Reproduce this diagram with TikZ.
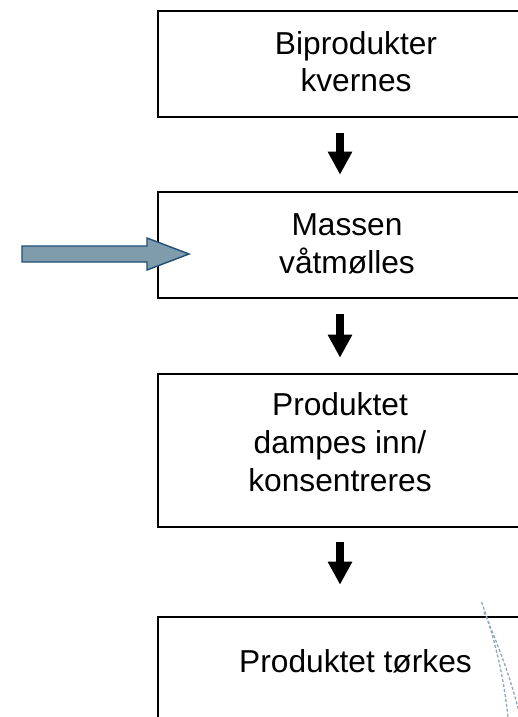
\documentclass[tikz,border=0pt]{standalone}
\usepackage{fontspec}
\setmainfont{Liberation Sans}
\usetikzlibrary{arrows.meta}
\definecolor{bluefill}{HTML}{7F9CAD}
\definecolor{blueedge}{HTML}{1F4E79}
\definecolor{dashblue}{HTML}{8FA9BC}
\tikzset{
  box/.style={draw=black, line width=2.6bp, rectangle, minimum width=402bp, inner sep=0pt},
  boxtext/.style={align=center, inner sep=0pt, anchor=base, font=\fontsize{31.7bp}{37.6bp}\selectfont},
  flowarrow/.style={line width=8bp, -{Triangle[width=23bp,length=23bp]}},
  dashcurve/.style={draw=dashblue, line width=1.3bp, dash pattern=on 3bp off 2bp}
}
\begin{document}
\begin{tikzpicture}[x=1bp,y=-1bp]
\useasboundingbox (0,0) rectangle (518,717);
\clip (0,0) rectangle (518,717);
\fill[white] (0,0) rectangle (518,717);
% boxes
\node[box, minimum height=106bp] (b1) at (359,64) {};
\node[box, minimum height=106bp] (b2) at (359,245) {};
\node[box, minimum height=153bp] (b3) at (359,450.5) {};
\node[box, minimum height=120bp] (b4) at (359,677) {};
% texts (anchor base = last line)
\node[boxtext] (t1) at (356,92) {Biprodukter\\kvernes};
\node[boxtext] (t2) at (347,273) {Massen\\våtmølles};
\node[boxtext] (t3) at (340,491) {Produktet\\dampes inn/\\konsentreres};
\node[boxtext] (t4) at (355.5,672) {Produktet tørkes};
% flow arrows
\coordinate (ax) at (340,0);
\draw[flowarrow, shorten <=15bp, shorten >=16bp] (b1.south -| ax) -- (b2.north -| ax);
\draw[flowarrow, shorten <=15bp, shorten >=15bp] (b2.south -| ax) -- (b3.north -| ax);
\draw[flowarrow, shorten <=14bp, shorten >=31bp] (b3.south -| ax) -- (b4.north -| ax);
% input block arrow
\draw[fill=bluefill, draw=blueedge, line width=1.4bp, line join=miter]
  (22,246) -- (147,246) -- (147,238) -- (189,254) -- (147,270) -- (147,262) -- (22,262) -- cycle;
% dashed curves
\draw[dashcurve] (481.5,602) .. controls (492,630) and (503,670) .. (508,717);
\draw[dashcurve] (484,612) .. controls (496,640) and (510,675) .. (519,712);
\end{tikzpicture}
\end{document}
